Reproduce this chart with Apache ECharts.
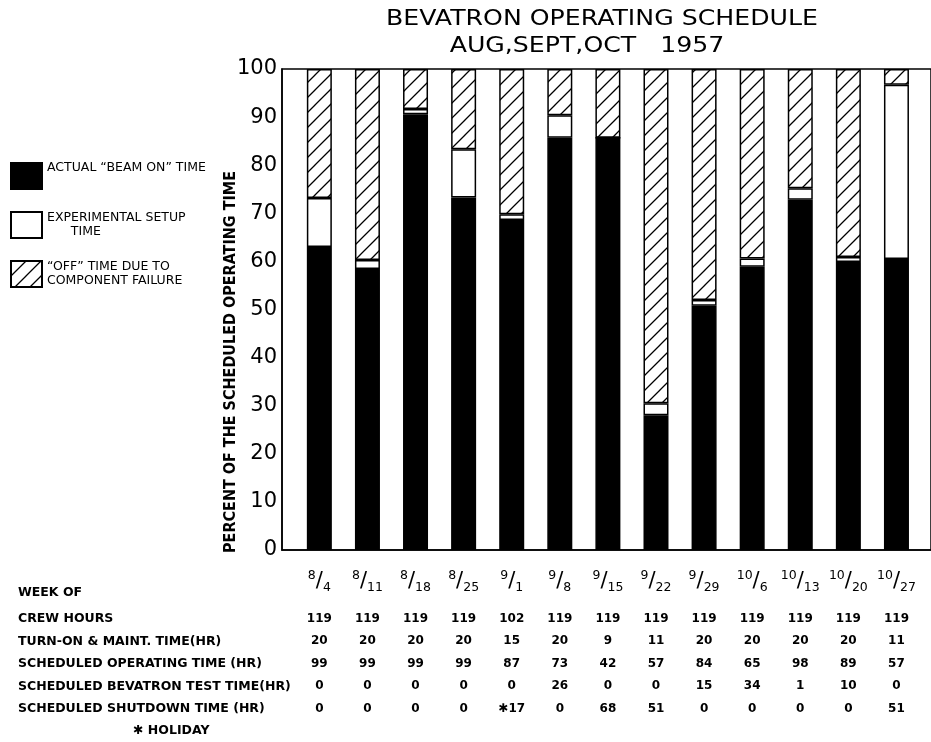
<!DOCTYPE html>
<html>
<head>
<meta charset="utf-8">
<script src="https://cdn.jsdelivr.net/npm/echarts@6/dist/echarts.min.js"></script>
<style>
html, body { margin: 0; padding: 0; background: #fff; }
#main { width: 931px; height: 742px; }
</style>
</head>
<body>
<div id="main"></div>
<script>
// weeks (x categories)
var weeks = ['8/4', '8/11', '8/18', '8/25', '9/1', '9/8', '9/15', '9/22', '9/29', '10/6', '10/13', '10/20', '10/27'];

// percent of scheduled operating time
var beamOn = [63.0, 58.4, 90.6, 73.3, 68.6, 85.7, 85.7, 28.0, 50.8, 58.9, 72.8, 59.9, 60.5];
var setupTime = [10.2, 1.9, 1.1, 10.0, 1.2, 4.7, 0, 2.5, 1.2, 1.7, 2.4, 1.0, 36.2];
var offTime = [26.8, 39.7, 8.3, 16.7, 30.2, 9.6, 14.3, 69.5, 48.0, 39.4, 24.8, 39.1, 3.3];

// table under the chart
var crewHours = [119, 119, 119, 119, 102, 119, 119, 119, 119, 119, 119, 119, 119];
var turnOnMaint = [20, 20, 20, 20, 15, 20, 9, 11, 20, 20, 20, 20, 11];
var schedOperating = [99, 99, 99, 99, 87, 73, 42, 57, 84, 65, 98, 89, 57];
var schedTest = [0, 0, 0, 0, 0, 26, 0, 0, 15, 34, 1, 10, 0];
var schedShutdown = [0, 0, 0, 0, 17, 0, 68, 51, 0, 0, 0, 0, 51];
var holidayWeeks = ['9/1'];

var rowLabels = ['WEEK OF', 'CREW HOURS', 'TURN-ON & MAINT. TIME(HR)', 'SCHEDULED OPERATING TIME (HR)',
    'SCHEDULED BEVATRON TEST TIME(HR)', 'SCHEDULED SHUTDOWN TIME (HR)'];

var yMin = 0, yMax = 100, yStep = 10;

var FONT = 'DejaVu Sans';

function hatch() {
    var s = 15;
    var c = document.createElement('canvas');
    c.width = s; c.height = s;
    var ctx = c.getContext('2d');
    ctx.fillStyle = '#fff';
    ctx.fillRect(0, 0, s, s);
    ctx.strokeStyle = '#000';
    ctx.lineWidth = 1.3;
    ctx.beginPath();
    ctx.moveTo(0, s); ctx.lineTo(s, 0);
    ctx.moveTo(-s / 2, s / 2); ctx.lineTo(s / 2, -s / 2);
    ctx.moveTo(s / 2, s * 1.5); ctx.lineTo(s * 1.5, s / 2);
    ctx.stroke();
    return c;
}

var chart = echarts.init(document.getElementById('main'));

var rowY = [593, 619, 641.5, 664, 686.5, 709];
var graphics = [
    {
        type: 'text', x: 602, y: 20, scaleX: 1.2,
        style: { text: 'BEVATRON OPERATING SCHEDULE', align: 'center', verticalAlign: 'middle', fontFamily: FONT, fontSize: 21, fill: '#000' }
    },
    {
        type: 'text', x: 587, y: 47, scaleX: 1.2,
        style: { text: 'AUG,SEPT,OCT   1957', align: 'center', verticalAlign: 'middle', fontFamily: FONT, fontSize: 21, fill: '#000' }
    },
    {
        type: 'text', x: 231, y: 362, rotation: Math.PI / 2,
        style: { text: 'PERCENT OF THE SCHEDULED OPERATING TIME', align: 'center', verticalAlign: 'middle', fontFamily: 'DejaVu Sans Condensed', fontWeight: 'bold', fontSize: 16, fill: '#000' }
    },
    {
        type: 'text', x: 133, y: 731,
        style: { text: '✱ HOLIDAY', align: 'left', verticalAlign: 'middle', fontFamily: FONT, fontWeight: 'bold', fontSize: 12.5, fill: '#000' }
    }
];
rowLabels.forEach(function (t, i) {
    graphics.push({
        type: 'text', x: 18, y: rowY[i],
        style: { text: t, align: 'left', verticalAlign: 'middle', fontFamily: FONT, fontWeight: 'bold', fontSize: 12.5, fill: '#000' }
    });
});

var barStyle = { borderColor: '#000', borderWidth: 1.5 };
var lineStyle = { color: '#000', width: 1.5 };

var option = {
    backgroundColor: '#fff',
    animation: false,
    graphic: graphics,
    legend: {
        orient: 'vertical',
        left: 10,
        top: 161,
        padding: 0,
        itemWidth: 31,
        itemHeight: 26,
        itemGap: 21,
        itemTextGap: 3,
        icon: 'rect',
        formatter: function (name) {
            return name.indexOf('BEAM') >= 0 ? '{up|' + name + '}' : name;
        },
        textStyle: {
            fontFamily: FONT, fontSize: 12.5, color: '#000', lineHeight: 14,
            rich: { up: { fontFamily: FONT, fontSize: 12.5, color: '#000', padding: [0, 0, 17, 0] } }
        },
        data: ['ACTUAL “BEAM ON” TIME', 'EXPERIMENTAL SETUP\n      TIME', '“OFF” TIME DUE TO\nCOMPONENT FAILURE']
    },
    grid: [
        // frame + percent scale
        { left: 282, right: -6, top: 69, bottom: 192, show: true, borderColor: '#000', borderWidth: 1.5, backgroundColor: 'transparent' },
        // bars, one 48px slot per week
        { left: 295.3, right: 10.5, top: 69, bottom: 192 }
    ],
    xAxis: [
        {
            gridIndex: 0, type: 'value', min: 0, max: 1,
            splitLine: { show: false }, axisTick: { show: false }, axisLabel: { show: false },
            axisLine: { show: true, lineStyle: lineStyle }
        },
        {
            gridIndex: 1, type: 'category', data: weeks, boundaryGap: true,
            axisLine: { show: false }, axisTick: { show: false }, splitLine: { show: false },
            axisLabel: {
                interval: 0,
                margin: 6,
                color: '#000',
                fontFamily: FONT,
                formatter: function (w, i) {
                    var p = w.split('/');
                    var sd = (holidayWeeks.indexOf(w) >= 0 ? '✱' : '') + schedShutdown[i];
                    return [
                        '{n|' + p[0] + '}{s|/}{d|' + p[1] + '}',
                        '{v|' + crewHours[i] + '}',
                        '{v|' + turnOnMaint[i] + '}',
                        '{v|' + schedOperating[i] + '}',
                        '{v|' + schedTest[i] + '}',
                        '{v|' + sd + '}'
                    ].join('\n');
                },
                rich: {
                    n: { fontFamily: FONT, fontSize: 12.5, lineHeight: 14, padding: [0, 0, 12, 0], color: '#000' },
                    s: { fontFamily: FONT, fontSize: 21, lineHeight: 51.5, color: '#000' },
                    d: { fontFamily: FONT, fontSize: 12.5, lineHeight: 14, padding: [12, 0, 0, 0], color: '#000' },
                    v: { fontFamily: FONT, fontSize: 12, fontWeight: 'bold', lineHeight: 22.5, color: '#000' }
                }
            }
        }
    ],
    yAxis: [
        {
            gridIndex: 0, type: 'value', min: yMin, max: yMax, interval: yStep,
            splitLine: { show: false }, axisTick: { show: false },
            axisLine: { show: true, lineStyle: lineStyle },
            axisLabel: { margin: 5, color: '#000', fontFamily: FONT, fontSize: 21 }
        },
        {
            gridIndex: 1, type: 'value', min: yMin, max: yMax, interval: yStep, show: false
        }
    ],
    series: [
        {
            name: 'ACTUAL “BEAM ON” TIME',
            type: 'bar', xAxisIndex: 1, yAxisIndex: 1,
            stack: 'total',
            barWidth: 25,
            itemStyle: Object.assign({ color: '#000' }, barStyle),
            data: beamOn
        },
        {
            name: 'EXPERIMENTAL SETUP\n      TIME',
            type: 'bar', xAxisIndex: 1, yAxisIndex: 1,
            stack: 'total',
            barWidth: 25,
            itemStyle: Object.assign({ color: '#fff' }, barStyle),
            data: setupTime
        },
        {
            name: '“OFF” TIME DUE TO\nCOMPONENT FAILURE',
            type: 'bar', xAxisIndex: 1, yAxisIndex: 1,
            stack: 'total',
            barWidth: 25,
            itemStyle: Object.assign({ color: { image: hatch(), repeat: 'repeat' } }, barStyle),
            data: offTime
        }
    ]
};

chart.setOption(option);
</script>
</body>
</html>
